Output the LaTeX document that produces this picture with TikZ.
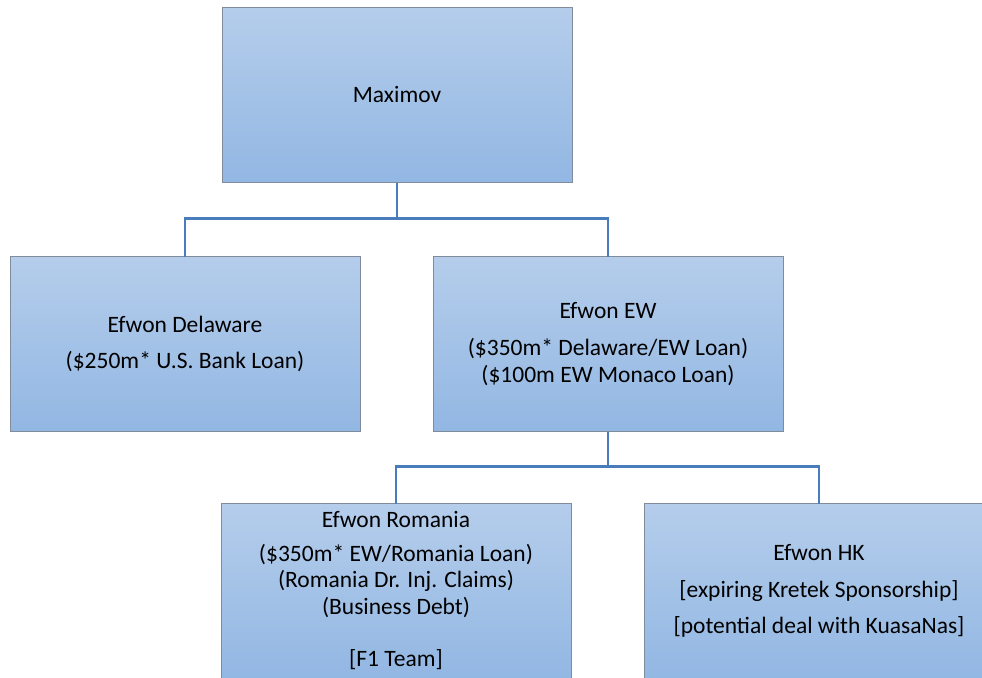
\documentclass[tikz,border=0pt]{standalone}
\usepackage{fontspec}
\setmainfont{Carlito}
\usepackage{xcolor}
\usepackage{tikz}
\usetikzlibrary{positioning}

\definecolor{boxtop}{RGB}{181,205,235}
\definecolor{boxbot}{RGB}{146,183,227}
\definecolor{boxline}{RGB}{128,140,156}
\definecolor{linkblue}{RGB}{72,124,186}

\tikzset{
    unit/.style={draw=boxline, line width=0.9pt, top color=boxtop, bottom color=boxbot,
        minimum width=350pt, minimum height=175pt, inner sep=0pt, outer sep=0pt,
        align=center, font=\fontsize{23.5}{26.5}\selectfont},
    link/.style={draw=linkblue, line width=2.8pt}
}

\begin{document}
\begin{tikzpicture}[x=1pt, y=-1pt]
        \path[use as bounding box, clip] (0,0) rectangle (982,677);
        \fill[white] (0,0) rectangle (982,677);
%
        \node[unit] (max) at (397,95) {Maximov};
        \node[unit, below=74pt of max, xshift=-212pt] (del)
            {Efwon Delaware\\[10pt] (\$250m* U.S. Bank Loan)};
        \node[unit, right=73pt of del] (ew)
            {Efwon EW\\[11pt] (\$350m* Delaware/EW Loan)\\ (\$100m EW Monaco Loan)};
        \node[unit, below=72pt of ew, xshift=-212pt] (rom)
            {Efwon Romania\\[7pt] (\$350m* EW/Romania Loan)\\ (Romania Dr. Inj. Claims)\\ (Business Debt)\\[26pt] [F1 Team]};
        \node[unit, right=73pt of rom] (hk)
            {Efwon HK\\[10pt] [expiring Kretek Sponsorship]\\[10pt] [potential deal with KuasaNas]};
%
        \coordinate (j1) at ([yshift=-36pt]max.south);
        \coordinate (j2) at ([yshift=-35pt]ew.south);
        \draw[link] (max.south) -- (j1) -| (del.north);
        \draw[link] (j1) -| (ew.north);
        \draw[link] (ew.south) -- (j2) -| (rom.north);
        \draw[link] (j2) -| (hk.north);
\end{tikzpicture}
\end{document}
